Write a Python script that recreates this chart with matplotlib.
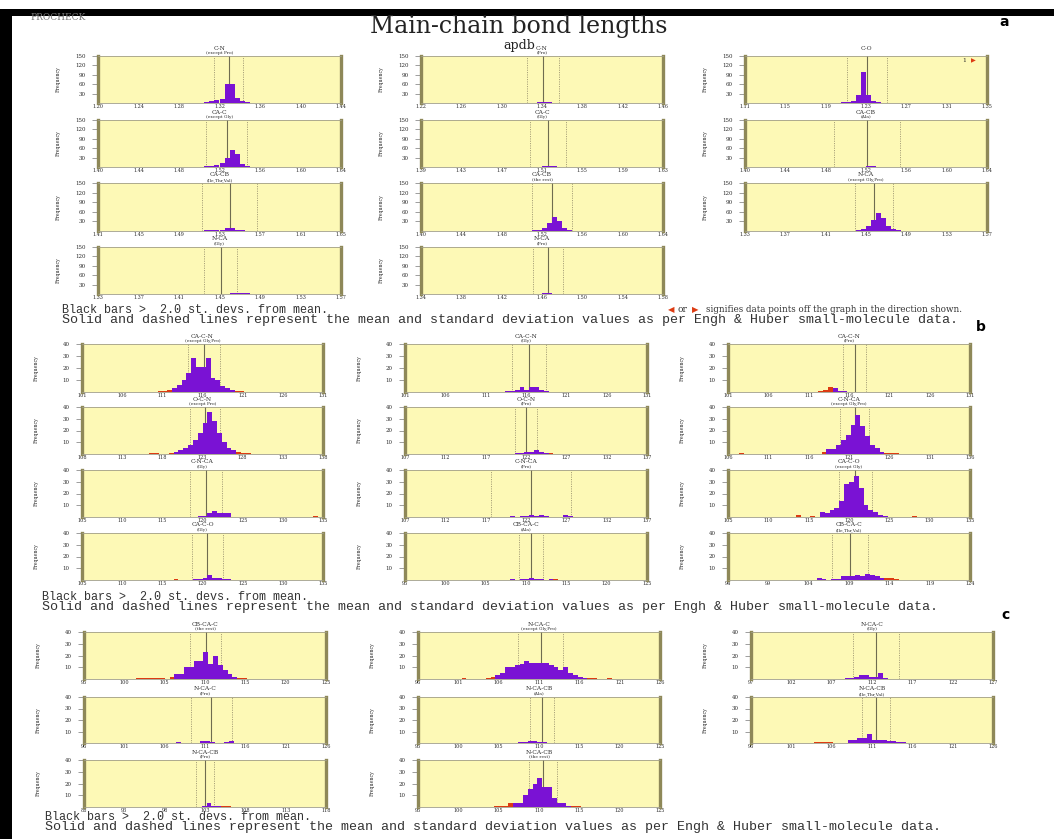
import numpy as np
import matplotlib
matplotlib.use("Agg")
import matplotlib.pyplot as plt
from matplotlib.patches import Rectangle

# ---------------- section a : main-chain bond lengths ----------------
A_TITLES = ["C-N", "C-N", "C-O", "CA-C", "CA-C", "CA-CB", "CA-CB", "CA-CB", "N-CA", "N-CA", "N-CA"]
A_SUBTITLES = ["(except Pro)", "(Pro)", "", "(except Gly)", "(Gly)", "(Ala)", "(Ile,Thr,Val)",
               "(the rest)", "(except Gly,Pro)", "(Gly)", "(Pro)"]
A_XMIN = [1.20, 1.22, 1.11, 1.40, 1.39, 1.40, 1.41, 1.40, 1.33, 1.33, 1.34]
A_XMAX = [1.44, 1.46, 1.35, 1.64, 1.63, 1.64, 1.65, 1.64, 1.57, 1.57, 1.58]
A_MEAN = [1.329, 1.341, 1.231, 1.527, 1.516, 1.521, 1.540, 1.530, 1.458, 1.451, 1.466]
A_SD = [0.014, 0.016, 0.020, 0.020, 0.018, 0.033, 0.027, 0.020, 0.019, 0.016, 0.015]
A_BIN0 = [1.305, 1.330, 1.195, 1.500, 1.505, 1.515, 1.510, 1.510, 1.440, 1.455, 1.455]
A_COUNTS = [
    [2, 5, 8, 14, 62, 62, 16, 6, 2],
    [1, 2, 3, 2, 1],
    [1, 1, 2, 3, 5, 25, 100, 25, 5, 2, 1],
    [1, 2, 3, 6, 14, 28, 55, 42, 10, 3, 1],
    [1, 2, 3, 2, 1],
    [1, 2, 2, 1],
    [1, 2, 3, 3, 4, 10, 10, 3, 2, 1],
    [2, 4, 10, 25, 45, 30, 8, 3, 1],
    [2, 5, 15, 35, 55, 40, 15, 5, 2],
    [1, 2, 4, 4, 2, 1],
    [1, 3, 3, 1],
]
A_OFF_RIGHT = [0, 0, 1, 0, 0, 0, 0, 0, 0, 0, 0]
A_BINW = 0.005
A_YTICKS = [30, 60, 90, 120, 150]

# ---------------- section b : bond angles (1) ----------------
B_TITLES = ["CA-C-N", "CA-C-N", "CA-C-N", "O-C-N", "O-C-N", "C-N-CA", "C-N-CA", "C-N-CA",
            "CA-C-O", "CA-C-O", "CB-CA-C", "CB-CA-C"]
B_SUBTITLES = ["(except Gly,Pro)", "(Gly)", "(Pro)", "(except Pro)", "(Pro)", "(except Gly,Pro)",
               "(Gly)", "(Pro)", "(except Gly)", "(Gly)", "(Ala)", "(Ile,Thr,Val)"]
B_XMIN = [101, 101, 101, 108, 107, 106, 105, 107, 105, 105, 95, 94]
B_XMAX = [131, 131, 131, 138, 137, 136, 135, 137, 135, 135, 125, 124]
B_MEAN = [116.2, 116.4, 116.7, 123.3, 122.0, 121.7, 120.4, 122.6, 120.8, 120.6, 110.6, 109.1]
B_SD = [2.0, 2.1, 1.45, 1.9, 1.4, 1.8, 2.0, 5.0, 2.1, 1.9, 1.5, 2.2]
B_BIN0 = [110.4, 113.4, 112.2, 116.4, 120.6, 107.4, 119.4, 120.0, 113.4, 116.4, 108.0, 105.0]
B_COUNTS = [
    [1, 1, 2, 3, 6, 10, 16, 28, 21, 21, 28, 12, 10, 5, 3, 2, 1, 1],
    [1, 1, 2, 4, 2, 4, 4, 2, 1],
    [1, 2, 4, 3, 1, 1],
    [1, 1, 0, 0, 1, 2, 3, 5, 8, 12, 18, 26, 36, 28, 18, 10, 5, 3, 2, 1, 1],
    [1, 1, 2, 2, 3, 2, 1, 1],
    [1, 0, 0, 0, 0, 0, 0, 0, 0, 0, 0, 0, 0, 0, 0, 0, 0,
     2, 4, 4, 8, 12, 16, 25, 33, 24, 15, 8, 5, 2, 1, 1, 1],
    [1, 1, 3, 5, 3, 3, 3, 0, 0, 0, 0, 0, 0, 0, 0, 0, 0, 0, 0, 0, 0, 0, 0, 0, 1],
    [1, 0, 1, 1, 2, 1, 2, 1, 0, 0, 0, 2, 1],
    [2, 0, 0, 1, 0, 4, 3, 6, 8, 14, 28, 30, 35, 25, 10, 6, 4, 2, 1, 0, 0, 0, 0, 0, 1],
    [1, 0, 0, 0, 1, 1, 2, 4, 2, 2, 1, 1],
    [1, 0, 1, 1, 2, 1, 1, 0, 1, 1],
    [2, 1, 0, 1, 1, 3, 3, 3, 4, 3, 5, 4, 3, 2, 2, 2, 1],
]
B_BINW = 0.6
B_YTICKS = [10, 20, 30, 40]

# ---------------- section c : bond angles (2) ----------------
C_TITLES = ["CB-CA-C", "N-CA-C", "N-CA-C", "N-CA-C", "N-CA-CB", "N-CA-CB", "N-CA-CB", "N-CA-CB"]
C_SUBTITLES = ["(the rest)", "(except Gly,Pro)", "(Gly)", "(Pro)", "(Ala)", "(Ile,Thr,Val)",
               "(Pro)", "(the rest)"]
C_XMIN = [95, 96, 97, 96, 95, 96, 88, 95]
C_XMAX = [125, 126, 127, 126, 125, 126, 118, 125]
C_MEAN = [110.1, 111.2, 112.5, 111.8, 110.4, 111.5, 103.0, 110.5]
C_SD = [1.9, 2.8, 2.9, 2.5, 1.5, 1.7, 1.1, 1.7]
C_BIN0 = [101.4, 101.4, 108.6, 107.4, 107.4, 103.8, 102.6, 104.4]
C_COUNTS = [
    [1, 1, 1, 1, 1, 1, 0, 2, 4, 4, 10, 10, 15, 15, 23, 13, 20, 12, 8, 4, 2, 1, 1],
    [1, 0, 0, 0, 0, 1, 2, 3, 5, 10, 10, 12, 13, 15, 14, 14, 14, 14, 12, 10, 8, 10, 5, 3, 2,
     1, 1, 1, 0, 0, 1],
    [1, 1, 2, 3, 3, 2, 2, 5, 1],
    [1, 0, 0, 0, 0, 2, 2, 1, 0, 0, 1, 2],
    [1, 1, 2, 2, 1, 1],
    [1, 1, 1, 1, 0, 0, 0, 3, 3, 4, 4, 8, 3, 3, 3, 2, 2, 1, 1],
    [1, 3, 1, 1, 1, 1],
    [1, 1, 1, 3, 3, 3, 10, 15, 20, 25, 17, 17, 8, 3, 3, 1, 1, 1],
]
C_BINW = 0.6
C_YTICKS = [10, 20, 30, 40]

FOOT1 = "Black bars >  2.0 st. devs. from mean."
FOOT_OFF = "signifies data points off the graph in the direction shown."
FOOT2 = ("Solid and dashed lines represent the mean and standard deviation values "
         "as per Engh & Huber small-molecule data.")

# ---------------- layout (pixels) ----------------
W, H = 1054, 839
A_COLS = [(98, 341), (421, 663), (745, 987)]
A_ROWS = [(56, 103), (120, 167), (183, 231), (247, 294)]
B_COLS = [(82, 323), (405, 647), (728, 970)]
B_ROWS = [(344, 392), (407, 454), (470, 517), (533, 580)]
C_COLS = [(84, 326), (418, 660), (751, 993)]
C_ROWS = [(632, 679), (697, 743), (760, 807)]

YELLOW = "#fdf9b6"
EDGE = "#8e8858"
PURPLE = "#7a12d4"
RED = "#dd3b12"
TXT = "#2a2a2a"
SERIF = "DejaVu Serif"

fig = plt.figure(figsize=(W / 100, H / 100), dpi=100)
fig.patch.set_facecolor("white")


def prect(x0, y0, x1, y1):
    return [x0 / W, 1 - y1 / H, (x1 - x0) / W, (y1 - y0) / H]


def ptext(x, y, s, **kw):
    kw.setdefault("family", SERIF)
    return fig.text(x / W, 1 - y / H, s, **kw)


def panel(box, title, sub, xmin, xmax, mean, sd, bin0, counts, bw, yticks, decimals,
          ylab_off, off_right=0):
    x0, y0, x1, y1 = box
    ax = fig.add_axes(prect(x0, y0, x1, y1))
    ax.set_facecolor(YELLOW)
    counts = np.asarray(counts, dtype=float)
    edges = bin0 + bw * np.arange(len(counts))
    centers = edges + bw / 2
    colors = [RED if abs(c - mean) > 2 * sd else PURPLE for c in centers]
    ax.bar(edges, counts, width=bw, align="edge", color=colors, linewidth=0, zorder=3)
    ax.axvline(mean, color="#6f6c50", lw=0.8, zorder=2)
    for v in (mean - sd, mean + sd):
        ax.axvline(v, color="#aaa37a", lw=0.7, ls=(0, (1.2, 1.2)), zorder=2)
    ax.set_xlim(xmin, xmax)
    ax.set_ylim(0, yticks[-1])
    ticks = np.linspace(xmin, xmax, 7)
    ax.set_xticks(ticks)
    ax.set_xticklabels([f"{t:.{decimals}f}" for t in ticks], family=SERIF)
    ax.set_yticks(yticks)
    ax.set_yticklabels([str(t) for t in yticks], family=SERIF)
    ax.tick_params(axis="x", length=0, pad=0.5, labelsize=3.5, labelcolor=TXT)
    ax.tick_params(axis="y", length=4.5, width=0.5, color="#777", pad=4.5,
                   labelsize=4.0, labelcolor=TXT)
    for s in ("left", "right"):
        ax.spines[s].set_linewidth(2.4)
        ax.spines[s].set_color(EDGE)
    for s in ("top", "bottom"):
        ax.spines[s].set_linewidth(0.6)
        ax.spines[s].set_color("#a09e88")
    wpx, hpx = x1 - x0, y1 - y0
    ax.text(-ylab_off / wpx, 0.5, "Frequency", transform=ax.transAxes, rotation=90,
            ha="center", va="center", fontsize=3.4, family=SERIF, color=TXT)
    ax.text(0.5, 1 + 8.0 / hpx, title, transform=ax.transAxes, ha="center", va="center",
            fontsize=4.3, family=SERIF, color=TXT)
    if sub:
        ax.text(0.5, 1 + 3.3 / hpx, sub, transform=ax.transAxes, ha="center", va="center",
                fontsize=3.2, family=SERIF, color=TXT)
    if off_right:
        ax.text(0.905, 0.9, str(off_right), transform=ax.transAxes, ha="center", va="center",
                fontsize=4.2, family=SERIF, color=TXT)
        ax.text(0.945, 0.9, "\u25B6", transform=ax.transAxes, ha="center", va="center",
                fontsize=4.5, family="DejaVu Sans", color=RED)
    return ax


# frame
fig.add_artist(Rectangle((0, 1 - 16 / H), 1, 7 / H, transform=fig.transFigure,
                         color="black", lw=0))
fig.add_artist(Rectangle((0, 0), 12 / W, 1 - 9 / H, transform=fig.transFigure,
                         color="black", lw=0))

# headings
ptext(30, 18, "PROCHECK", fontsize=6.5, color="#777777", va="center", ha="left")
ptext(519, 33.5, "Main-chain bond lengths", fontsize=17, color="#222", ha="center",
      va="baseline")
ptext(519, 49, "apdb", fontsize=9, color="#222", ha="center", va="baseline")
for lab, (lx, ly) in zip(["a", "b", "c"], [(1004, 22), (981, 327), (1005, 615)]):
    ptext(lx, ly, lab, fontsize=10, fontweight="bold", family="DejaVu Sans",
          ha="center", va="center", color="black")

# section a
for i in range(len(A_TITLES)):
    r, c = divmod(i, 3)
    box = (A_COLS[c][0], A_ROWS[r][0], A_COLS[c][1], A_ROWS[r][1])
    panel(box, A_TITLES[i], A_SUBTITLES[i], A_XMIN[i], A_XMAX[i], A_MEAN[i], A_SD[i],
          A_BIN0[i], A_COUNTS[i], A_BINW, A_YTICKS, 2, 40, A_OFF_RIGHT[i])

# section b
for i in range(len(B_TITLES)):
    r, c = divmod(i, 3)
    box = (B_COLS[c][0], B_ROWS[r][0], B_COLS[c][1], B_ROWS[r][1])
    panel(box, B_TITLES[i], B_SUBTITLES[i], B_XMIN[i], B_XMAX[i], B_MEAN[i], B_SD[i],
          B_BIN0[i], B_COUNTS[i], B_BINW, B_YTICKS, 0, 46)

# section c
for i in range(len(C_TITLES)):
    r, c = divmod(i, 3)
    box = (C_COLS[c][0], C_ROWS[r][0], C_COLS[c][1], C_ROWS[r][1])
    panel(box, C_TITLES[i], C_SUBTITLES[i], C_XMIN[i], C_XMAX[i], C_MEAN[i], C_SD[i],
          C_BIN0[i], C_COUNTS[i], C_BINW, C_YTICKS, 0, 46)

# footnotes
MONO = "Liberation Mono"
ptext(62, 310, FOOT1, fontsize=8.5, family=MONO, color="#333", va="center")
ptext(668, 310, "\u25C0", fontsize=6, family="DejaVu Sans", color=RED, va="center")
ptext(678, 310, "or", fontsize=6.5, color="#333", va="center")
ptext(692, 310, "\u25B6", fontsize=6, family="DejaVu Sans", color=RED, va="center")
ptext(706, 310, FOOT_OFF, fontsize=6.3, color="#333", va="center")
ptext(62, 320, FOOT2, fontsize=9.6, family=MONO, color="#333", va="center")

ptext(42, 597, FOOT1, fontsize=8.5, family=MONO, color="#333", va="center")
ptext(42, 607, FOOT2, fontsize=9.6, family=MONO, color="#333", va="center")

ptext(45, 817, FOOT1, fontsize=8.5, family=MONO, color="#333", va="center")
ptext(45, 827, FOOT2, fontsize=9.6, family=MONO, color="#333", va="center")

fig.savefig("out.png", dpi=100, facecolor="white")
